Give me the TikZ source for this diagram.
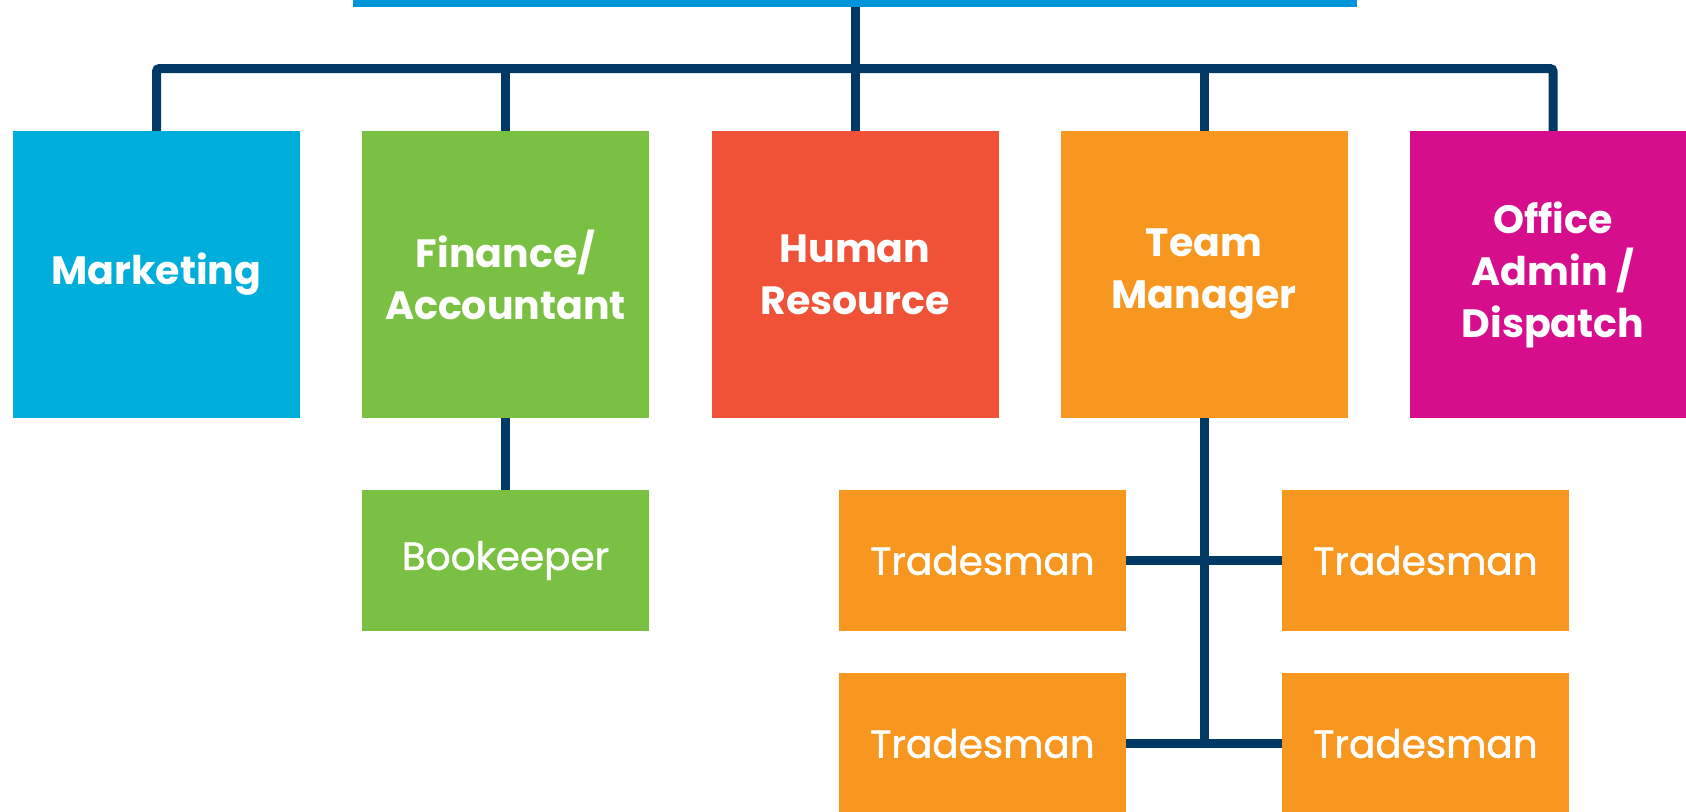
\documentclass[tikz,border=0pt]{standalone}
\usepackage{fontspec}
\setmainfont{Poppins}
\newfontfamily\medfont{Poppins}[FakeBold=1.2]
\definecolor{navy}{HTML}{003963}
\definecolor{topblue}{HTML}{0095DA}
\definecolor{mktc}{HTML}{00AEDB}
\definecolor{finc}{HTML}{7AC143}
\definecolor{hrc}{HTML}{F05237}
\definecolor{teamc}{HTML}{F7971F}
\definecolor{offc}{HTML}{D60D8C}
\tikzset{
  bigbox/.style={rectangle, inner sep=0pt, minimum width=287pt, minimum height=287pt,
    text=white, align=center, font=\bfseries\fontsize{39.5}{52}\selectfont},
  smallbox/.style={rectangle, inner sep=0pt, minimum width=287pt, minimum height=141pt,
    text=white, align=center, font=\medfont\fontsize{39}{44}\selectfont},
  conn/.style={draw=navy, line width=9pt},
}
\begin{document}
\begin{tikzpicture}[x=1pt,y=-1pt]
\useasboundingbox (0,0) rectangle (1686,811);
% top bar
\node[fill=topblue, rectangle, inner sep=0pt, minimum width=1004pt, minimum height=7pt, anchor=north] (top) at (855,0) {};
% top row
\node[bigbox, fill=mktc] (mkt) at (156.5,274.5) {Marketing};
\node[bigbox, fill=finc] (fin) at (505.5,274.5) {Finance/\\Accountant};
\node[bigbox, fill=hrc] (hr) at (855,274.5) {Human\\Resource};
\node[bigbox, fill=teamc] (team) at (1204,274.5) {Team\\Manager};
\node[bigbox, fill=offc] (off) at (1553,274.5) {Office\\Admin /\\Dispatch};
% second level
\node[smallbox, fill=finc] (bk) at (505.5,560.5) {Bookeeper};
\node[smallbox, fill=teamc] (tl1) at (982.5,560.5) {Tradesman};
\node[smallbox, fill=teamc] (tr1) at (1425.5,560.5) {Tradesman};
\node[smallbox, fill=teamc] (tl2) at (982.5,743.5) {Tradesman};
\node[smallbox, fill=teamc] (tr2) at (1425.5,743.5) {Tradesman};
\coordinate (bus) at (855,68.5);
% connectors
\draw[conn] (top.south) -- (hr.north);
\draw[conn, rounded corners=3pt] (mkt.north) -- (mkt.north |- bus) -- (off.north |- bus) -- (off.north);
\draw[conn] (fin.north |- bus) -- (fin.north);
\draw[conn] (team.north |- bus) -- (team.north);
\draw[conn] (fin.south) -- (bk.north);
\draw[conn] (team.south) -- ([yshift=4.5pt]team.south |- tl2.east);
\draw[conn] (tl1.east) -- (tr1.west);
\draw[conn] (tl2.east) -- (tr2.west);
\end{tikzpicture}
\end{document}
